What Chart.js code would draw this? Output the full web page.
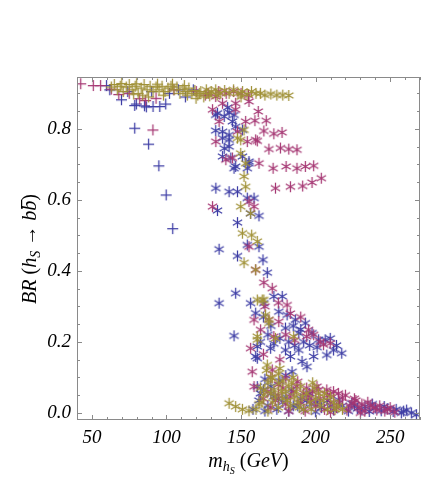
<!DOCTYPE html>
<html>
<head>
<meta charset="utf-8">
<script src="https://cdn.jsdelivr.net/npm/chart.js@4"></script>
<style>
  html, body { margin: 0; padding: 0; background: #fff; }
  #wrap { width: 443px; height: 498px; }
</style>
</head>
<body>
<div id="wrap"><canvas id="plot" width="443" height="498"></canvas></div>
<script>
// tick labels
const xTicks = [50, 100, 150, 200, 250];
const yTicks = [0, 0.2, 0.4, 0.6, 0.8];

// "+" markers (low mass)
const bluePlus = [
  [59.8, 0.922], [62, 0.91], [69.8, 0.882], [74, 0.905], [78.7, 0.866], [79.8, 0.87],
  [85.3, 0.865], [86.5, 0.862], [91, 0.863], [95.5, 0.863], [99.5, 0.87], [102, 0.9],
  [108, 0.91], [112.7, 0.89], [118, 0.91], [90, 0.905],
  [78.7, 0.802], [88, 0.757], [94.9, 0.696], [99.8, 0.614], [104.2, 0.519]
];
const magentaPlus = [
  [42.5, 0.927], [50.9, 0.922], [55.8, 0.922], [63, 0.912], [68, 0.897], [75, 0.9],
  [82, 0.885], [86, 0.88], [93, 0.886], [90.9, 0.797], [105, 0.91], [120, 0.905], [126, 0.895]
];
const olivePlus = [
  [63, 0.918], [65, 0.925], [67, 0.91], [69, 0.92], [71, 0.905], [73, 0.918], [75, 0.925],
  [77, 0.91], [79, 0.92], [81, 0.9], [83, 0.915], [85, 0.925], [87, 0.91], [89, 0.92],
  [91, 0.905], [93, 0.918], [95, 0.91], [97, 0.92], [99, 0.905], [101, 0.915], [103, 0.92],
  [105, 0.91], [107, 0.918], [109, 0.9], [111, 0.912], [113, 0.905], [115, 0.915], [117, 0.9],
  [119, 0.908], [119.8, 0.886], [121, 0.895], [122, 0.9], [123, 0.905], [125, 0.89], [127, 0.9],
  [84, 0.895], [88, 0.89], [70, 0.928], [80, 0.927], [94, 0.926], [104, 0.926], [112, 0.922],
  [78, 0.898], [98, 0.895], [114, 0.895]
];

// "*" markers (high mass)
const blueStar = [
  [141, 0.86], [133, 0.839], [142, 0.846], [145.3, 0.839], [134.2, 0.844], [138.7, 0.835], [144.2, 0.821],
  [133, 0.795], [137.6, 0.792], [142, 0.783], [146.4, 0.806], [150.9, 0.797], [137.6, 0.774], [142, 0.769],
  [138.7, 0.745], [142, 0.75], [137.6, 0.722], [143.1, 0.718], [150.9, 0.722], [155.3, 0.708],
  [146.4, 0.694], [155.3, 0.703], [145.3, 0.689], [154.2, 0.689],
  [133.1, 0.633], [142, 0.623], [147.6, 0.623], [134.2, 0.57], [154.2, 0.605], [158.7, 0.605],
  [156.4, 0.562], [162, 0.555], [147.6, 0.536], [154.2, 0.473], [162, 0.468], [135.3, 0.461],
  [147.6, 0.442], [164.7, 0.431], [167.6, 0.395], [146.4, 0.337], [135.3, 0.309], [177.6, 0.328],
  [156.4, 0.309], [165.3, 0.309], [172, 0.328], [159.8, 0.281], [145.3, 0.217],
  [175.3, 0.285], [180.9, 0.276], [186.4, 0.262], [193.1, 0.253],
  [179.8, 0.239], [188.7, 0.225], [197.6, 0.225], [202, 0.206], [206.4, 0.206], [209.8, 0.21],
  [212, 0.177], [217.5, 0.168], [207.5, 0.163],
  [160.9, 0.187], [169.8, 0.182], [179.8, 0.177], [188.7, 0.177], [198.7, 0.159], [183.1, 0.159],
  [190.9, 0.145], [194.2, 0.13], [160.9, 0.154], [184.2, 0.116], [160.9, 0.074], [159.8, 0.159],
  [163, 0.2], [168, 0.22], [172, 0.195], [176, 0.21], [182, 0.2], [186, 0.19], [192, 0.2],
  [196, 0.19], [201, 0.185], [170, 0.245], [185, 0.245], [165, 0.27], [190, 0.235], [214, 0.19],
  [158, 0.01], [162, 0.035], [163, 0.055], [166, 0.005], [168, 0.02], [172, 0.046], [174, 0.01],
  [178, 0.03], [182, 0.005], [185, 0.02], [190, 0.04], [192, 0.01], [197, 0.025], [200, 0.003],
  [204, 0.015], [208, 0.035], [212, 0.008], [215.3, 0.037], [218, 0.02], [222, 0.005], [224.2, 0.027],
  [228, 0.012], [233.1, 0.018], [236, 0.004], [240, 0.014], [244, 0.006], [248, 0.012], [252, 0.004],
  [257.5, 0.0], [261, 0.008], [264.2, 0.0], [267.6, -0.005],
  [176, 0.09], [170, 0.075], [184, 0.065], [196, 0.055], [180, 0.105], [166, 0.095],
  [165, 0.065], [170, 0.055], [175, 0.04], [180, 0.045], [188, 0.02], [194, 0.035], [201, 0.03],
  [210, 0.02], [226, 0.022], [231, 0.008], [238, 0.025], [246, 0.018], [254, 0.01], [259, 0.005]
];
const magentaStar = [
  [128, 0.9], [135, 0.905], [140, 0.9], [145, 0.905], [150, 0.9], [155, 0.895],
  [130.9, 0.854], [133, 0.891], [137.6, 0.872], [146.4, 0.872], [155.3, 0.877], [146.4, 0.854],
  [153.1, 0.821], [135.3, 0.821], [147.6, 0.792], [133.1, 0.764], [154.2, 0.764], [159.8, 0.769],
  [139.8, 0.713], [144.2, 0.718], [130.9, 0.581], [155.3, 0.595], [158.7, 0.581], [155.3, 0.468],
  [161.5, 0.849], [159.3, 0.823], [166.9, 0.823], [165.3, 0.794], [172, 0.786], [177.5, 0.79],
  [160.9, 0.766], [168.7, 0.743], [176.4, 0.746], [182, 0.743], [187.5, 0.741],
  [162, 0.703], [171.5, 0.689], [180.2, 0.694], [187.5, 0.689], [193.1, 0.694], [198.7, 0.696],
  [173.1, 0.633], [183.1, 0.637], [191.3, 0.639], [197.6, 0.649], [203.8, 0.661],
  [159.8, 0.403], [165.3, 0.367], [170.9, 0.351], [158.7, 0.262], [180.9, 0.304], [168.7, 0.262],
  [175.3, 0.257], [163.1, 0.234], [195.3, 0.234], [198.7, 0.22], [205.3, 0.192], [209.8, 0.196],
  [156.4, 0.182], [157.5, 0.116], [158.7, 0.074], [170.9, 0.121], [200.9, 0.074], [207.5, 0.065],
  [215.3, 0.055], [209.8, 0.051],
  [166, 0.3], [175, 0.31], [183, 0.28], [190, 0.27], [172, 0.215], [180, 0.22], [186, 0.205],
  [194, 0.215], [203, 0.2], [165, 0.165], [176, 0.15],
  [165, 0.04], [170, 0.015], [175, 0.05], [180, 0.025], [185, 0.06], [190, 0.03], [195, 0.048],
  [200, 0.02], [203, 0.04], [206, 0.01], [210, 0.03], [214, 0.015], [218, 0.042], [221, 0.008],
  [225, 0.028], [229, 0.015], [233, 0.005], [237, 0.02], [241, 0.008], [246.4, 0.005], [253.1, 0.002],
  [188, 0.088], [180, 0.098], [194, 0.07], [175, 0.08], [182, 0.005], [193, 0.005], [210, 0.002],
  [230, 0.0], [170, 0.1], [198, 0.06], [226, 0.04],
  [168, 0.06], [173, 0.035], [178, 0.07], [183, 0.045], [187, 0.075], [192, 0.055], [197, 0.035],
  [202, 0.065], [208, 0.05], [212, 0.06], [216, 0.03], [220, 0.05], [223, 0.02], [227, 0.035],
  [231, 0.025], [235, 0.03], [239, 0.015], [243, 0.02], [248, 0.01], [250, 0.015]
];
const oliveStar = [
  [126.7, 0.91], [130, 0.905], [133, 0.91], [136, 0.9], [139, 0.908], [142, 0.9], [145, 0.91],
  [148, 0.9], [151, 0.905], [154, 0.897], [157, 0.905], [160, 0.9], [163, 0.9], [166, 0.895],
  [170, 0.898], [174, 0.895], [178, 0.895], [182, 0.894], [129, 0.893], [134, 0.895], [150, 0.89],
  [149.8, 0.769], [147.6, 0.774], [152, 0.797], [149.8, 0.731], [153.1, 0.703], [152, 0.666],
  [153.1, 0.637], [149.8, 0.581], [156.4, 0.562], [150.9, 0.506], [157.1, 0.501], [160.9, 0.483],
  [152, 0.423], [159.8, 0.403], [160.9, 0.318], [165.3, 0.318], [164.2, 0.318], [168.7, 0.262],
  [166.4, 0.276], [168.7, 0.253], [160.9, 0.206], [160.9, 0.215], [173.1, 0.21], [185.3, 0.215],
  [142, 0.027], [146.4, 0.018], [150.9, 0.01], [155.3, 0.006], [160, 0.01], [162, 0.025],
  [165, 0.05], [167, 0.12], [168, 0.085], [170, 0.1], [171, 0.03], [172, 0.065], [175, 0.11],
  [175, 0.015], [178, 0.09], [178, 0.04], [180, 0.06], [182, 0.075], [183, 0.02], [185, 0.1],
  [186, 0.045], [188, 0.03], [190, 0.075], [192, 0.01], [194, 0.055], [196, 0.03], [198, 0.085],
  [200, 0.04], [203, 0.02], [206, 0.055], [208, 0.01], [212, 0.03], [215, 0.02],
  [167.6, 0.135], [171, 0.098], [175.3, 0.084], [163, 0.07], [187, 0.06],
  [164, 0.03], [168, 0.005], [173, 0.045], [177, 0.06], [181, 0.035], [184, 0.085], [189, 0.015],
  [191, 0.045], [197, 0.01], [199, 0.07], [202, 0.055], [205, 0.035], [210, 0.045], [213, 0.01],
  [218, 0.01], [166, 0.065], [170, 0.055], [176, 0.125]
];

const BLUE = 'rgb(62,62,165)';
const MAGENTA = 'rgb(165,55,115)';
const OLIVE = 'rgb(160,145,55)';
const SERIF = '"Liberation Serif", "Times New Roman", serif';

// marker images
function makeMarker(kind, color) {
  const c = document.createElement('canvas');
  c.width = 13; c.height = 13;
  const g = c.getContext('2d');
  g.strokeStyle = color;
  g.lineWidth = 1.25;
  g.beginPath();
  if (kind === 'plus') {
    g.moveTo(1, 6.5); g.lineTo(12, 6.5);
    g.moveTo(6.5, 1); g.lineTo(6.5, 12);
  } else {
    const r = 5.4;
    [90, 30, 150].forEach(a => {
      const t = a * Math.PI / 180;
      g.moveTo(6.5 - r * Math.cos(t), 6.5 - r * Math.sin(t));
      g.lineTo(6.5 + r * Math.cos(t), 6.5 + r * Math.sin(t));
    });
  }
  g.stroke();
  return c;
}

function toPts(arr) {
  return arr.map(p => ({ x: p[0], y: p[1] }));
}

function series(arr, kind, color, order) {
  return {
    data: toPts(arr),
    pointStyle: makeMarker(kind, color),
    pointRadius: 6,
    pointHoverRadius: 6,
    order: order
  };
}

// draws text pieces (sub/superscripts) centred at cx, baseline by
function drawRich(ctx, segs, cx, by) {
  let w = 0;
  segs.forEach(s => { ctx.font = s.f; s.w = ctx.measureText(s.t).width; w += s.w; });
  let x = cx - w / 2;
  segs.forEach(s => {
    ctx.font = s.f;
    ctx.fillText(s.t, x, by + (s.dy || 0));
    if (s.bar) {
      ctx.fillRect(x + 2, by - 15, s.w - 1, 1.2);
    }
    x += s.w;
  });
}

const framePlugin = {
  id: 'frame',
  afterDatasetsDraw(chart) {
    const { ctx, chartArea: a, scales } = chart;
    const xs = scales.x, ys = scales.y;
    ctx.save();
    ctx.strokeStyle = '#8a8a8a';
    ctx.lineWidth = 1;
    ctx.strokeRect(a.left + 0.5, a.top + 0.5, a.right - a.left - 1, a.bottom - a.top - 1);
    ctx.beginPath();
    for (let v = 40; v <= 270; v += 10) {
      const px = Math.round(xs.getPixelForValue(v)) + 0.5;
      const len = v % 50 === 0 ? 5 : 3;
      ctx.moveTo(px, a.bottom); ctx.lineTo(px, a.bottom - len);
      ctx.moveTo(px, a.top); ctx.lineTo(px, a.top + len);
    }
    for (let i = 0; i <= 18; i++) {
      const v = i * 0.05;
      const py = Math.round(ys.getPixelForValue(v)) + 0.5;
      const len = i % 4 === 0 ? 5 : 3;
      ctx.moveTo(a.left, py); ctx.lineTo(a.left + len, py);
      ctx.moveTo(a.right, py); ctx.lineTo(a.right - len, py);
    }
    ctx.stroke();

    // axis titles
    ctx.fillStyle = '#000';
    ctx.textBaseline = 'alphabetic';
    const it = 'italic 20px ' + SERIF;
    const up = '20px ' + SERIF;
    const sub = 'italic 14px ' + SERIF;
    const sub2 = 'italic 10px ' + SERIF;
    drawRich(ctx, [
      { t: 'm', f: it },
      { t: 'h', f: sub, dy: 4 },
      { t: 'S', f: sub2, dy: 7 },
      { t: ' (', f: up },
      { t: 'GeV', f: it },
      { t: ')', f: up }
    ], (a.left + a.right) / 2, 467);

    ctx.save();
    ctx.translate(36, 249);
    ctx.rotate(-Math.PI / 2);
    drawRich(ctx, [
      { t: 'BR', f: it },
      { t: ' (', f: up },
      { t: 'h', f: it },
      { t: 'S', f: sub, dy: 4 },
      { t: ' \u2192 ', f: up },
      { t: 'b', f: it },
      { t: 'b', f: it, bar: true },
      { t: ')', f: up }
    ], 0, 0);
    ctx.restore();
    ctx.restore();
  }
};

new Chart(document.getElementById('plot'), {
  type: 'scatter',
  data: {
    datasets: [
      series(olivePlus, 'plus', OLIVE, 0),
      series(magentaPlus, 'plus', MAGENTA, 1),
      series(bluePlus, 'plus', BLUE, 2),
      series(oliveStar, 'star', OLIVE, 0),
      series(magentaStar, 'star', MAGENTA, 1),
      series(blueStar, 'star', BLUE, 2)
    ]
  },
  options: {
    responsive: false,
    animation: false,
    events: [],
    layout: { padding: { top: 77, right: 23, left: 0, bottom: 0 } },
    plugins: { legend: { display: false }, tooltip: { enabled: false } },
    scales: {
      x: {
        type: 'linear',
        min: 40,
        max: 270,
        afterFit: s => { s.height = 78; },
        afterBuildTicks: s => { s.ticks = xTicks.map(v => ({ value: v })); },
        grid: { display: false, drawTicks: false },
        border: { display: false },
        ticks: {
          padding: 7,
          color: '#000',
          font: { family: SERIF, size: 19, style: 'italic' },
          maxRotation: 0,
          callback: v => String(v)
        }
      },
      y: {
        type: 'linear',
        min: -0.02,
        max: 0.946,
        afterFit: s => { s.width = 77; },
        afterBuildTicks: s => { s.ticks = yTicks.map(v => ({ value: v })); },
        grid: { display: false, drawTicks: false },
        border: { display: false },
        ticks: {
          padding: 6,
          color: '#000',
          font: { family: SERIF, size: 19, style: 'italic' },
          callback: v => v.toFixed(1)
        }
      }
    }
  },
  plugins: [framePlugin]
});
</script>
</body>
</html>
